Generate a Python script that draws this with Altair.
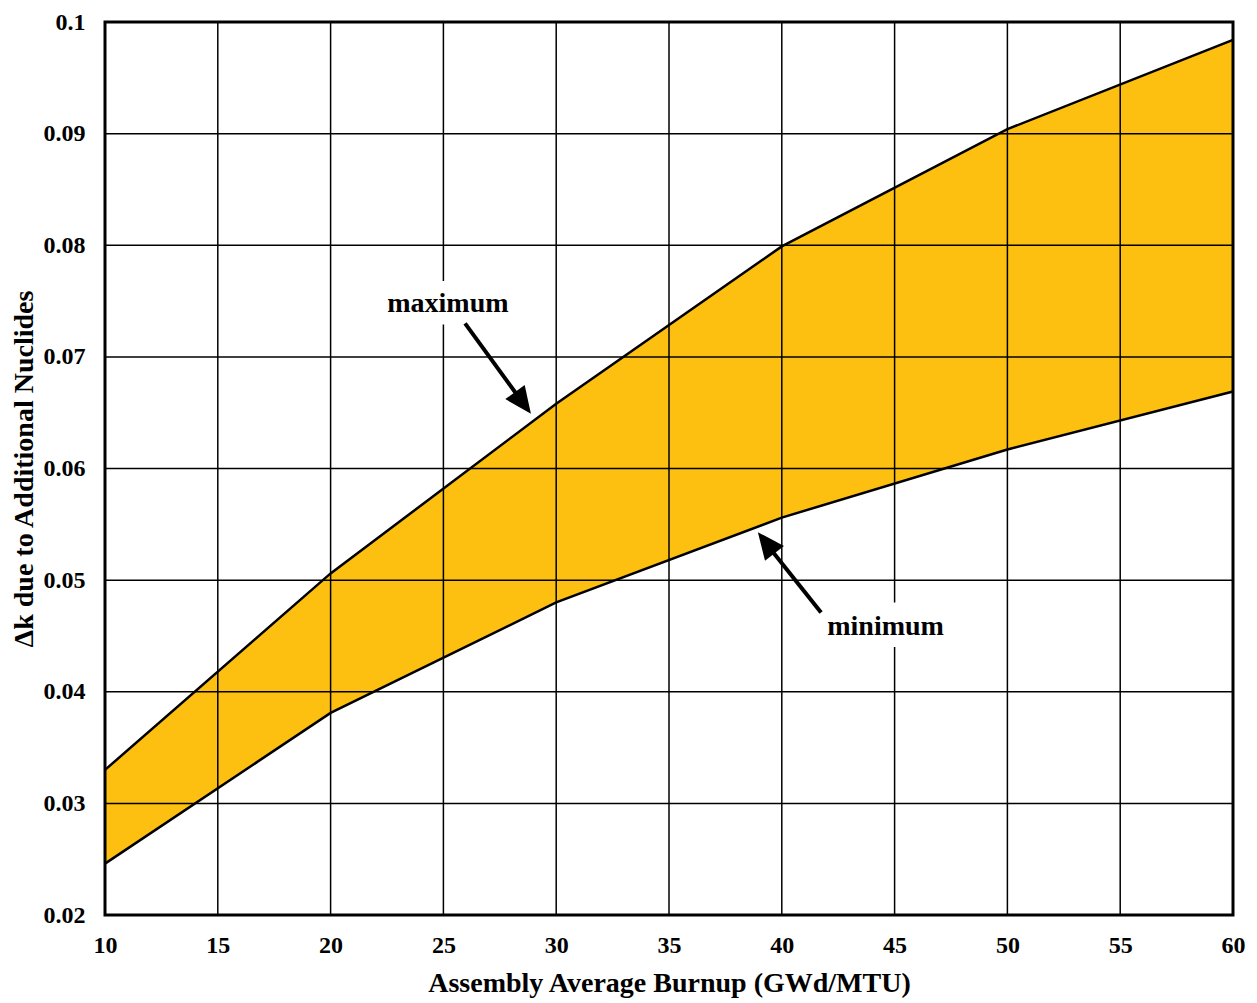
import altair as alt
import pandas as pd

# ---- data ----
burnup = [10, 20, 30, 40, 50, 60]
dk_max = [0.0330, 0.0506, 0.0658, 0.0799, 0.0904, 0.0984]
dk_min = [0.0246, 0.0381, 0.0480, 0.0556, 0.0617, 0.0669]

x_ticks = [10, 15, 20, 25, 30, 35, 40, 45, 50, 55, 60]
y_ticks = [0.02, 0.03, 0.04, 0.05, 0.06, 0.07, 0.08, 0.09, 0.1]

labels = ["maximum", "minimum"]
label_x = [25.2, 44.6]
label_y = [0.0747, 0.0458]
box_x1 = [22.5, 41.9]
box_x2 = [28.0, 47.3]
box_y1 = [0.0729, 0.0440]
box_y2 = [0.0768, 0.0480]
arrow_x1 = [25.96, 41.74]
arrow_y1 = [0.0730, 0.0471]
arrow_x2 = [28.48, 39.34]
arrow_y2 = [0.0660, 0.0532]
tip_x = [28.88, 38.94]
tip_y = [0.0649, 0.0543]
tip_angle = [143.8, 322.1]

FONT = "Liberation Serif"
XS = alt.Scale(domain=[10, 60], nice=False, zero=False)
YS = alt.Scale(domain=[0.02, 0.1], nice=False, zero=False)

band = pd.DataFrame({"x": burnup, "lo": dk_min, "hi": dk_max})
lines = pd.DataFrame({"x": burnup * 2, "y": dk_max + dk_min,
                      "s": ["max"] * len(burnup) + ["min"] * len(burnup)})
ann = pd.DataFrame({"t": labels, "x": label_x, "y": label_y,
                    "bx1": box_x1, "bx2": box_x2, "by1": box_y1, "by2": box_y2,
                    "tx": tip_x, "ty": tip_y, "ang": tip_angle})
arrows = pd.DataFrame({"x": arrow_x1 + arrow_x2, "y": arrow_y1 + arrow_y2,
                       "a": labels + labels})
frame = pd.DataFrame({"x1": [10], "x2": [60], "y1": [0.02], "y2": [0.1]})

xaxis = alt.Axis(values=x_ticks, grid=False, ticks=False, domain=False,
                 labelFlush=False,
                 labelFont=FONT, labelFontSize=24, labelFontWeight="bold",
                 labelColor="black", labelPadding=18,
                 title="Assembly Average Burnup (GWd/MTU)", titleFont=FONT,
                 titleFontSize=28, titleFontWeight="bold", titleColor="black",
                 titlePadding=12)
yaxis = alt.Axis(values=y_ticks, grid=False, ticks=False, domain=False,
                 labelFlush=False,
                 format="~g", labelFont=FONT, labelFontSize=24,
                 labelFontWeight="bold", labelColor="black", labelPadding=20,
                 title="\u0394k due to Additional Nuclides", titleFont=FONT,
                 titleFontSize=28, titleFontWeight="bold", titleColor="black",
                 titlePadding=5)

area = alt.Chart(band).mark_area(color="#FDC010", opacity=1).encode(
    x=alt.X("x:Q", scale=XS, axis=xaxis),
    y=alt.Y("lo:Q", scale=YS, axis=yaxis),
    y2="hi:Q",
)

vgrid = alt.Chart(pd.DataFrame({"v": x_ticks})).mark_rule(
    color="black", strokeWidth=1.5).encode(x=alt.X("v:Q", scale=XS))
hgrid = alt.Chart(pd.DataFrame({"v": y_ticks})).mark_rule(
    color="black", strokeWidth=1.5).encode(y=alt.Y("v:Q", scale=YS))

curves = alt.Chart(lines).mark_line(color="black", strokeWidth=2.5).encode(
    x=alt.X("x:Q", scale=XS), y=alt.Y("y:Q", scale=YS), detail="s:N")

boxes = alt.Chart(ann).mark_rect(color="white").encode(
    x=alt.X("bx1:Q", scale=XS), x2="bx2:Q",
    y=alt.Y("by1:Q", scale=YS), y2="by2:Q")

texts = alt.Chart(ann).mark_text(font=FONT, fontSize=28, fontWeight="bold",
                                 color="black", align="center",
                                 baseline="middle").encode(
    x=alt.X("x:Q", scale=XS), y=alt.Y("y:Q", scale=YS), text="t:N")

shafts = alt.Chart(arrows).mark_line(color="black", strokeWidth=4).encode(
    x=alt.X("x:Q", scale=XS), y=alt.Y("y:Q", scale=YS), detail="a:N")

heads = alt.Chart(ann).mark_point(
    shape="M0,0L0.8,1.8L-0.8,1.8Z", filled=True, color="black", opacity=1,
    size=900).encode(
    x=alt.X("tx:Q", scale=XS), y=alt.Y("ty:Q", scale=YS),
    angle=alt.Angle("ang:Q", scale=None))

border = alt.Chart(frame).mark_rect(filled=False, stroke="black",
                                    strokeWidth=3).encode(
    x=alt.X("x1:Q", scale=XS), x2="x2:Q",
    y=alt.Y("y1:Q", scale=YS), y2="y2:Q")

chart = alt.layer(area, vgrid, hgrid, curves, boxes, texts, shafts, heads,
                  border).properties(
    width=1128, height=893,
    autosize=alt.AutoSizeParams(type="none"),
    padding={"left": 97, "top": 14, "right": 16, "bottom": 84},
).configure_view(stroke=None).configure(background="white")

chart.save("out.html", embed_options={"renderer": "svg", "actions": False})
